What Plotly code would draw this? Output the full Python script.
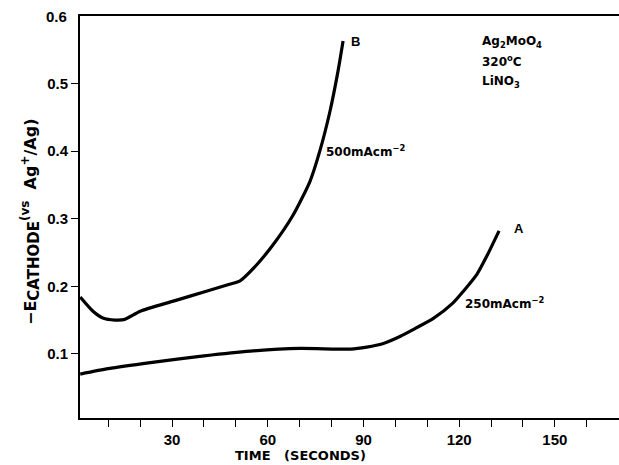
import plotly.graph_objects as go

# Curve B (500 mA cm^-2)
time_b = [1.2, 5.2, 8.3, 12.1, 15.2, 20, 30.4, 41, 48, 51.3, 55.4, 61.6, 67.9, 73.2, 76.3, 79.5, 82, 83.6]
e_b = [0.184, 0.163, 0.153, 0.150, 0.151, 0.163, 0.178, 0.193, 0.203, 0.208, 0.226, 0.261, 0.305, 0.355, 0.400, 0.459, 0.518, 0.563]

# Curve A (250 mA cm^-2)
time_a = [1.2, 10, 23.2, 40, 54.5, 70, 86, 91, 96, 101.6, 106, 111.8, 118, 121.2, 125.6, 128.7, 132.5]
e_a = [0.070, 0.078, 0.087, 0.097, 0.104, 0.108, 0.107, 0.110, 0.115, 0.126, 0.137, 0.152, 0.175, 0.192, 0.218, 0.245, 0.282]

x_ticks = list(range(10, 170, 10))
x_ticktext = [str(v) if v % 30 == 0 else "" for v in x_ticks]
y_ticks = [0.1, 0.2, 0.3, 0.4, 0.5]
y_ticktext = ["0.1", "0.2", "0.3", "0.4", "0.5"]

FONT = "Liberation Sans"
FONT2 = "DejaVu Sans"
L, R, T, B = 80, 0, 16, 47
PW, PH = 619 - L - R, 465 - T - B

fig = go.Figure()
for xs, ys in [(time_b, e_b), (time_a, e_a)]:
    fig.add_trace(go.Scatter(x=xs, y=ys, mode="lines",
                             line=dict(color="black", width=3.2, shape="spline", smoothing=0.6),
                             showlegend=False, hoverinfo="skip"))

fig.update_layout(
    width=619, height=465,
    margin=dict(l=L, r=R, t=T, b=B),
    paper_bgcolor="white", plot_bgcolor="white",
    font=dict(family=FONT, color="black", size=13),
    xaxis=dict(range=[1.13, 170.1], tickvals=x_ticks, ticktext=x_ticktext,
               ticks="outside", ticklen=7, tickwidth=1.3, tickcolor="black",
               showline=True, linecolor="black", linewidth=2, mirror=True,
               showgrid=False, zeroline=False,
               tickfont=dict(family=FONT, size=15, weight="bold")),
    yaxis=dict(range=[0.005, 0.6], tickvals=y_ticks, ticktext=y_ticktext,
               ticks="outside", ticklen=7, tickwidth=1.3, tickcolor="black",
               showline=True, linecolor="black", linewidth=2, mirror=False,
               showgrid=False, zeroline=False,
               tickfont=dict(family=FONT, size=15, weight="bold")),
)

def add(text, x, y, xanchor="left", size=13, family=FONT2):
    fig.add_annotation(text=text, x=x, y=y, xref="x", yref="y", xanchor=xanchor,
                       yanchor="middle", showarrow=False,
                       font=dict(family=family, size=size, color="black", weight="bold"))

# top tick label 0.6 (no tick mark)
fig.add_annotation(text="0.6", x=-11 / PW, y=0.6, xref="paper", yref="y", xanchor="right",
                   yanchor="middle", showarrow=False,
                   font=dict(family=FONT, size=15, color="black", weight="bold"))
add("B", 85.5, 0.563, family=FONT, size=13)
add("A", 136.5, 0.286, family=FONT, size=13)
add("500mAcm<sup>−2</sup>", 77.5, 0.40, size=12)
add("250mAcm<sup>−2</sup>", 121.3, 0.175, size=12)
add("Ag<sub>2</sub>MoO<sub>4</sub>", 126.5, 0.562, size=12)
add("320<sup>o</sup>C", 126.5, 0.533, size=12)
add("LiNO<sub>3</sub>", 126.5, 0.503, size=12)

fig.add_annotation(text="TIME   (SECONDS)", x=(300 - L) / PW, y=-(455 - (465 - B)) / PH,
                   xref="paper", yref="paper", xanchor="center", yanchor="middle",
                   showarrow=False, font=dict(family=FONT2, size=13, color="black", weight="bold"))
fig.add_annotation(text="−E<sub><span style='font-size:15px'>CATHODE</span></sub>"
                        "<sup><span style='font-size:12px'>(vs</span></sup>  Ag"
                        "<sup><span style='font-size:12px'>+</span></sup>/Ag)",
                   x=-(L - 30) / PW, y=((465 - B) - 222) / PH, xref="paper", yref="paper",
                   xanchor="center", yanchor="middle", textangle=-90, showarrow=False,
                   font=dict(family=FONT2, size=16, color="black", weight="bold"))

fig.write_html("out.html", config={"displayModeBar": False},
               post_script="document.body.style.margin='0px';document.body.style.overflow='hidden';")
